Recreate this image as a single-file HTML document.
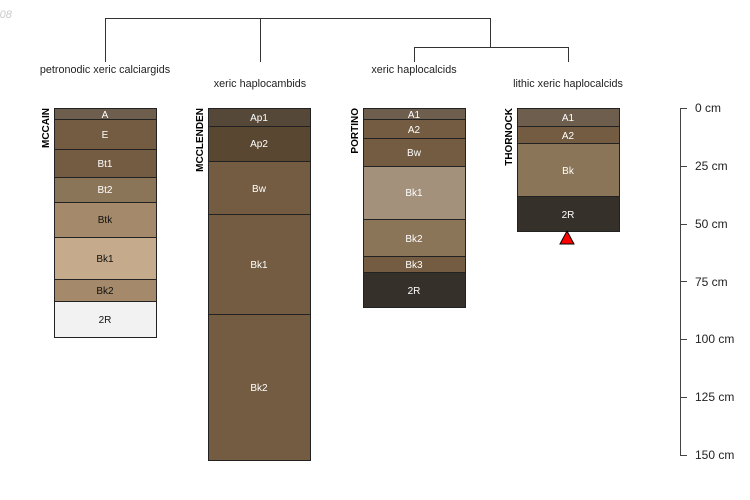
<!DOCTYPE html>
<html><head><style>body{margin:0;background:#fff}svg{display:block}text{font-family:"Liberation Sans",sans-serif}</style></head>
<body>
<svg width="750" height="500" xmlns="http://www.w3.org/2000/svg">
<text x="-4" y="18" font-size="11" font-style="italic" fill="#ccc">-08</text>
<g stroke="#000" stroke-width="1" fill="none">
<polyline points="105.5,62 105.5,18.5 490.5,18.5 490.5,47" stroke="#333"/>
<line x1="260.5" y1="18.5" x2="260.5" y2="62" stroke="#333"/>
<polyline points="414.5,62 414.5,47.5 568.5,47.5 568.5,62" stroke="#333"/>
</g>
<g font-size="10.8" fill="#222" text-anchor="middle">
<text x="105" y="73">petronodic xeric calciargids</text>
<text x="260" y="87">xeric haplocambids</text>
<text x="414" y="73">xeric haplocalcids</text>
<text x="568" y="87">lithic xeric haplocalcids</text>
</g>
<g stroke="#222" stroke-width="1" font-size="10" text-anchor="middle">
<rect x="54.5" y="108.5" width="102" height="11" fill="#6e5e4e"/>
<rect x="54.5" y="119.5" width="102" height="30" fill="#735c41"/>
<rect x="54.5" y="149.5" width="102" height="28" fill="#735c41"/>
<rect x="54.5" y="177.5" width="102" height="25" fill="#8b7558"/>
<rect x="54.5" y="202.5" width="102" height="35" fill="#a48a6a"/>
<rect x="54.5" y="237.5" width="102" height="42" fill="#c5ab8b"/>
<rect x="54.5" y="279.5" width="102" height="22" fill="#a48a6a"/>
<rect x="54.5" y="301.5" width="102" height="36" fill="#f2f2f2"/>
<rect x="208.5" y="108.5" width="102" height="18" fill="#564838"/>
<rect x="208.5" y="126.5" width="102" height="35" fill="#5a4731"/>
<rect x="208.5" y="161.5" width="102" height="53" fill="#735c41"/>
<rect x="208.5" y="214.5" width="102" height="100" fill="#735c41"/>
<rect x="208.5" y="314.5" width="102" height="146" fill="#735c41"/>
<rect x="363.5" y="108.5" width="102" height="11" fill="#6e5e4e"/>
<rect x="363.5" y="119.5" width="102" height="19" fill="#735c41"/>
<rect x="363.5" y="138.5" width="102" height="28" fill="#735c41"/>
<rect x="363.5" y="166.5" width="102" height="53" fill="#a3917b"/>
<rect x="363.5" y="219.5" width="102" height="37" fill="#8b7558"/>
<rect x="363.5" y="256.5" width="102" height="16" fill="#735c41"/>
<rect x="363.5" y="272.5" width="102" height="35" fill="#36302a"/>
<rect x="517.5" y="108.5" width="102" height="18" fill="#6e5e4e"/>
<rect x="517.5" y="126.5" width="102" height="17" fill="#735c41"/>
<rect x="517.5" y="143.5" width="102" height="53" fill="#8b7558"/>
<rect x="517.5" y="196.5" width="102" height="35" fill="#36302a"/>
</g>
<polygon points="560,244 574,244 567,231" fill="#f00" stroke="#000" stroke-width="1"/>
<g font-size="10" text-anchor="middle" fill="#fff">
<text x="105" y="118">A</text><text x="105" y="138">E</text><text x="105" y="167">Bt1</text><text x="105" y="193">Bt2</text>
<g fill="#111"><text x="105" y="223">Btk</text><text x="105" y="262">Bk1</text><text x="105" y="294">Bk2</text><text x="105" y="323">2R</text></g>
<text x="259" y="121">Ap1</text><text x="259" y="147">Ap2</text><text x="259" y="192">Bw</text><text x="259" y="268">Bk1</text><text x="259" y="391">Bk2</text>
<text x="414" y="118">A1</text><text x="414" y="133">A2</text><text x="414" y="156">Bw</text><text x="414" y="196">Bk1</text><text x="414" y="242">Bk2</text><text x="414" y="268">Bk3</text><text x="414" y="294">2R</text>
<text x="568" y="121">A1</text><text x="568" y="139">A2</text><text x="568" y="174">Bk</text><text x="568" y="218">2R</text>
</g>
<g font-size="10" font-weight="bold" fill="#000" text-anchor="end">
<text transform="translate(49,108) rotate(-90)">MCCAIN</text>
<text transform="translate(203,108) rotate(-90)">MCCLENDEN</text>
<text transform="translate(358,108) rotate(-90)">PORTINO</text>
<text transform="translate(512,108) rotate(-90)">THORNOCK</text>
</g>
<g stroke="#444" stroke-width="1">
<line x1="680.5" y1="108" x2="680.5" y2="455"/>
<line x1="680" y1="108.5" x2="687" y2="108.5"/><line x1="680" y1="166.5" x2="687" y2="166.5"/>
<line x1="680" y1="224.5" x2="687" y2="224.5"/><line x1="680" y1="281.5" x2="687" y2="281.5"/>
<line x1="680" y1="339.5" x2="687" y2="339.5"/><line x1="680" y1="397.5" x2="687" y2="397.5"/>
<line x1="680" y1="455.5" x2="687" y2="455.5"/>
</g>
<g font-size="12" fill="#222">
<text x="695" y="112">0 cm</text><text x="695" y="170">25 cm</text><text x="695" y="228">50 cm</text>
<text x="695" y="286">75 cm</text><text x="695" y="343">100 cm</text><text x="695" y="401">125 cm</text><text x="695" y="459">150 cm</text>
</g>
</svg>
</body></html>
